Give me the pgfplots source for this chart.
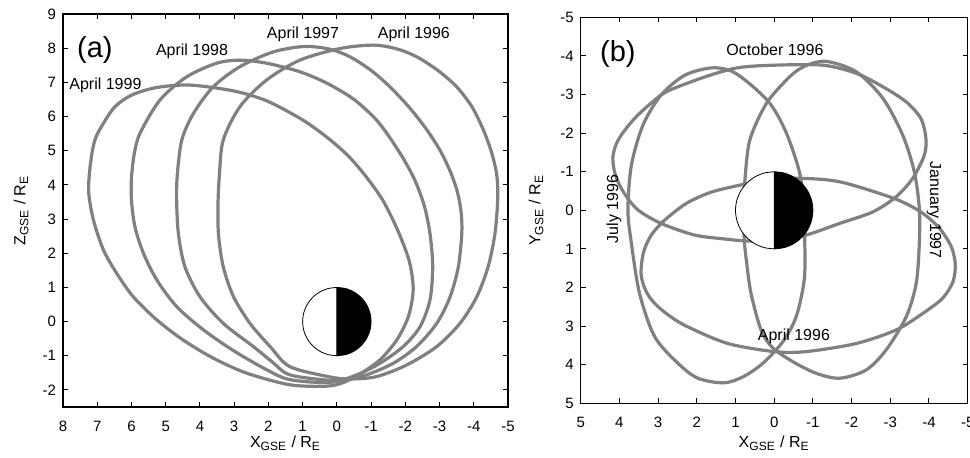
\documentclass[border=0pt]{standalone}
\usepackage{pgfplots}
\pgfplotsset{compat=1.18}
\usepackage{fontspec}
\setmainfont{Liberation Sans}

\definecolor{orbit}{RGB}{128,128,128}

\pgfplotsset{
  panel/.style={
    scale only axis,
    axis line style={black, line width=0.6pt},
    tick style={black, line width=0.5pt},
    tick align=inside,
    major tick length=2.5pt,
    tick label style={font=\fontsize{7.5}{9}\selectfont},
    xticklabel style={yshift=-3.5pt},
    label style={font=\fontsize{8}{10}\selectfont},
  },
  orb/.style={orbit, line width=1.6pt, smooth cycle},
}

\newcommand{\earth}{%
  \addplot[fill=white, draw=black, line width=0.4pt, smooth] coordinates {
    (0,1) (0.259,0.966) (0.5,0.866) (0.707,0.707) (0.866,0.5) (0.966,0.259) (1,0)
    (0.966,-0.259) (0.866,-0.5) (0.707,-0.707) (0.5,-0.866) (0.259,-0.966) (0,-1)};
  \addplot[fill=black, draw=black, line width=0.4pt, smooth] coordinates {
    (0,1) (-0.259,0.966) (-0.5,0.866) (-0.707,0.707) (-0.866,0.5) (-0.966,0.259) (-1,0)
    (-0.966,-0.259) (-0.866,-0.5) (-0.707,-0.707) (-0.5,-0.866) (-0.259,-0.966) (0,-1)} -- cycle;
}

\begin{document}
\begin{tikzpicture}

% (a) X-Z plane
\begin{axis}[panel,
  at={(31.5pt,-203.5pt)}, anchor=south west,
  width=222.5pt, height=196.5pt,
  x dir=reverse, xmin=-5, xmax=8, ymin=-2.5, ymax=9,
  xtick={-5,...,8}, ytick={-2,...,9},
  xticklabels={-5,-4,-3,-2,-1,0,1,2,3,4,5,6,7,8},
  yticklabels={-2,-1,0,1,2,3,4,5,6,7,8,9},
  xlabel={X\textsubscript{GSE} / R\textsubscript{E}},
  ylabel={Z\textsubscript{GSE} / R\textsubscript{E}},
  xlabel style={at={(axis description cs:0.5,-0.093)}, anchor=center},
  ylabel style={at={(axis description cs:-0.094,0.5)}, anchor=center},
]
% April 1999
\addplot[orb] coordinates {
  (0.3,-1.89) (1.37,-1.85) (2.63,-1.51) (3.61,-1.07) (4.49,-0.54) (5.26,0.05)
  (5.95,0.73) (6.43,1.41) (6.82,2.10) (7.11,2.97) (7.25,3.8) (7.2,4.6) (7.07,5.31)
  (6.82,5.80) (6.48,6.29) (5.99,6.63) (5.26,6.85) (4.29,6.92) (3.02,6.75) (2.05,6.46)
  (1.08,5.95) (0.59,5.62) (0.10,5.24) (-0.38,4.80) (-0.87,4.22) (-1.36,3.52)
  (-1.8,2.62) (-2.12,1.75) (-2.23,0.93) (-2.09,0.15) (-1.75,-0.54) (-1.26,-1.12)
  (-0.68,-1.53) (-0.2,-1.78)};
% April 1998
\addplot[orb] coordinates {
  (0.2,-1.78) (1.37,-1.70) (2.05,-1.41) (3.02,-0.85) (3.90,-0.24) (4.68,0.44)
  (5.26,1.22) (5.65,2.0) (5.90,2.78) (6.0,3.56) (6.0,4.2) (5.92,4.9) (5.75,5.51)
  (5.17,6.48) (4.39,7.16) (3.51,7.56) (2.83,7.65) (2.05,7.56) (1.08,7.31) (0.3,6.98)
  (-0.5,6.5) (-1.2,5.85) (-1.8,5.0) (-2.25,4.2) (-2.55,3.4) (-2.72,2.58) (-2.8,1.61)
  (-2.72,0.63) (-2.43,-0.15) (-1.94,-0.73) (-1.26,-1.22) (-0.58,-1.56)};
% April 1997
\addplot[orb] coordinates {
  (0.2,-1.72) (1.37,-1.56) (1.9,-1.17) (2.44,-0.73) (3.32,-0.05) (4.0,0.73)
  (4.44,1.61) (4.63,2.58) (4.68,3.56) (4.66,4.3) (4.53,5.31) (4.19,6.09) (3.61,6.87)
  (2.83,7.46) (1.86,7.89) (0.95,8.05) (0.2,7.97) (-0.38,7.75) (-1.0,7.35) (-1.55,6.87)
  (-2.13,6.25) (-2.63,5.61) (-3.02,5.0) (-3.31,4.4) (-3.52,3.8) (-3.63,3.2) (-3.65,2.58)
  (-3.55,1.61) (-3.31,0.73) (-2.92,-0.05) (-2.33,-0.73) (-1.65,-1.22) (-0.87,-1.56)
  (-0.3,-1.68)};
% April 1996
\addplot[orb] coordinates {
  (0.2,-1.62) (1.37,-1.32) (1.95,-0.73) (2.54,-0.05) (3.02,0.73) (3.32,1.61)
  (3.46,2.58) (3.47,3.5) (3.43,4.3) (3.32,5.31) (2.83,6.29) (2.05,7.07) (1.08,7.65)
  (-0.09,7.99) (-1.07,8.09) (-1.75,7.98) (-2.33,7.75) (-2.95,7.35) (-3.50,6.87)
  (-3.95,6.28) (-4.28,5.61) (-4.52,4.95) (-4.67,4.3) (-4.70,3.6) (-4.62,2.58)
  (-4.42,1.61) (-4.09,0.73) (-3.60,-0.05) (-2.92,-0.73) (-2.04,-1.27) (-1.16,-1.61)
  (-0.4,-1.68)};
\earth
\node[font=\fontsize{14.5}{16}\selectfont] at (axis cs:7.07,7.94) {(a)};
\node[font=\fontsize{8}{10}\selectfont] at (axis cs:6.76,6.92) {April 1999};
\node[font=\fontsize{8}{10}\selectfont] at (axis cs:4.23,7.90) {April 1998};
\node[font=\fontsize{8}{10}\selectfont] at (axis cs:0.99,8.41) {April 1997};
\node[font=\fontsize{8}{10}\selectfont] at (axis cs:-2.25,8.41) {April 1996};
\end{axis}

% (b) X-Y plane
\begin{axis}[panel,
  at={(290.35pt,-201.65pt)}, anchor=south west,
  width=193.5pt, height=193pt,
  x dir=reverse, y dir=reverse,
  xmin=-5, xmax=5, ymin=-5, ymax=5,
  xtick={-5,...,5}, ytick={-5,...,5},
  xticklabels={-5,-4,-3,-2,-1,0,1,2,3,4,5},
  yticklabels={-5,-4,-3,-2,-1,0,1,2,3,4,5},
  xlabel={X\textsubscript{GSE} / R\textsubscript{E}},
  ylabel={Y\textsubscript{GSE} / R\textsubscript{E}},
  xlabel style={at={(axis description cs:0.5,-0.104)}, anchor=center},
  ylabel style={at={(axis description cs:-0.115,0.5)}, anchor=center},
]
% October 1996
\addplot[orb] coordinates {
  (0.0,0.80) (0.77,0.79) (1.3,0.74) (2.06,0.64) (2.92,0.34) (3.52,-0.01) (3.88,-0.45)
  (4.1,-0.9) (4.17,-1.35) (4.08,-1.72) (3.88,-2.05) (3.52,-2.47) (2.92,-2.99)
  (2.49,-3.20) (1.63,-3.51) (0.9,-3.70) (0.0,-3.76) (-1.26,-3.76) (-2.12,-3.55)
  (-2.81,-3.20) (-3.41,-2.81) (-3.79,-2.38) (-3.92,-1.87) (-3.88,-1.43) (-3.58,-0.83)
  (-3.15,-0.35) (-2.55,0.04) (-1.69,0.34) (-0.83,0.64)};
% April 1996
\addplot[orb] coordinates {
  (0.1,-0.78) (0.85,-0.66) (1.63,-0.47) (2.2,-0.22) (2.55,0.02) (2.92,0.34)
  (3.2,0.68) (3.38,1.1) (3.44,1.65) (3.32,2.08) (3.09,2.41) (2.7,2.74) (2.23,3.02)
  (1.20,3.45) (0.0,3.66) (-0.83,3.66) (-2.12,3.45) (-3.15,3.10) (-3.84,2.67)
  (-4.35,2.28) (-4.62,1.85) (-4.68,1.4) (-4.58,0.95) (-4.3,0.5) (-3.95,0.16)
  (-3.55,-0.1) (-2.98,-0.35) (-1.69,-0.74) (-0.66,-0.83)};
% July 1996
\addplot[orb] coordinates {
  (-0.78,0.0) (-0.79,0.73) (-0.78,1.77) (-0.58,2.72) (-0.25,3.37) (0.29,3.96)
  (0.80,4.31) (1.30,4.47) (1.97,4.35) (2.49,3.96) (3.09,3.27) (3.48,2.15) (3.69,0.85)
  (3.78,-0.01) (3.69,-1.17) (3.39,-2.21) (2.92,-2.99) (2.31,-3.50) (1.63,-3.69)
  (1.11,-3.61) (0.60,-3.25) (0.08,-2.73) (-0.32,-1.99) (-0.66,-0.96)};
% January 1997
\addplot[orb] coordinates {
  (0.8,0.0) (0.76,-0.74) (0.63,-1.82) (0.20,-2.77) (-0.40,-3.46) (-0.8,-3.74)
  (-1.34,-3.86) (-2.12,-3.59) (-2.81,-2.90) (-3.32,-1.95) (-3.62,-1.00) (-3.75,-0.05)
  (-3.75,0.85) (-3.67,1.89) (-3.41,2.76) (-2.89,3.62) (-2.37,4.14) (-1.69,4.35)
  (-1.08,4.22) (-0.48,3.92) (0.05,3.55) (0.34,3.10) (0.60,2.15) (0.72,1.29) (0.77,0.81)};
\earth
\node[font=\fontsize{14.5}{16}\selectfont] at (axis cs:4.04,-4.06) {(b)};
\node[font=\fontsize{8}{10}\selectfont] at (axis cs:-0.02,-4.15) {October 1996};
\node[font=\fontsize{8}{10}\selectfont] at (axis cs:-0.51,3.27) {April 1996};
\node[font=\fontsize{8}{10}\selectfont, rotate=90] at (axis cs:4.14,-0.04) {July 1996};
\node[font=\fontsize{8}{10}\selectfont, rotate=-90] at (axis cs:-4.13,0.0) {January 1997};
\end{axis}

\pgfresetboundingbox
\path (0pt,0pt) rectangle (485pt,-228.5pt);
\end{tikzpicture}
\end{document}
